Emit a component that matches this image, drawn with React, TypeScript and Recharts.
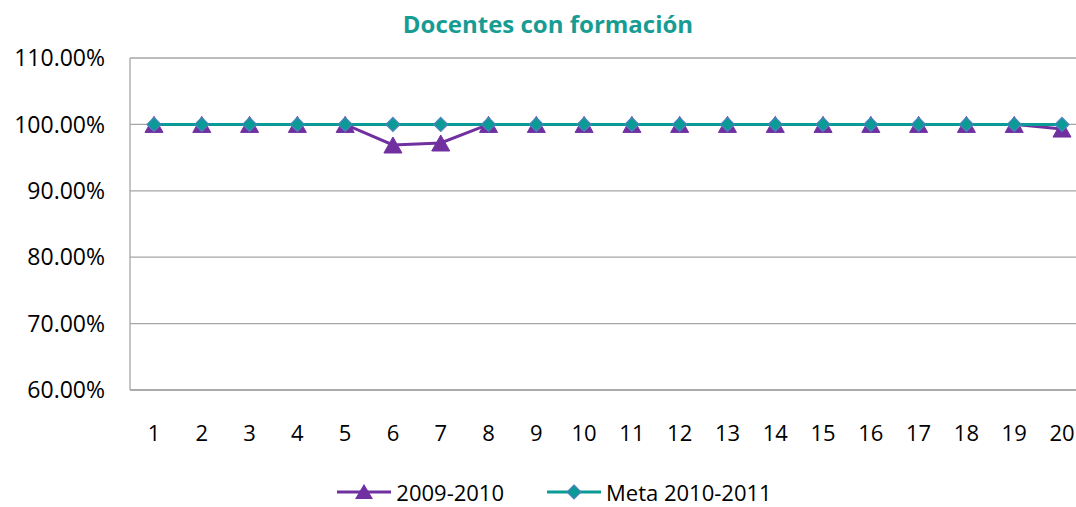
import React from "react";
import { LineChart, Line, XAxis, YAxis, CartesianGrid, Legend } from "recharts";

// chart values
const schools = ["1", "2", "3", "4", "5", "6", "7", "8", "9", "10", "11", "12", "13", "14", "15", "16", "17", "18", "19", "20"];
const docentes0910 = [1, 1, 1, 1, 1, 0.969, 0.972, 1, 1, 1, 1, 1, 1, 1, 1, 1, 1, 1, 1, 0.993];
const meta1011 = [1, 1, 1, 1, 1, 1, 1, 1, 1, 1, 1, 1, 1, 1, 1, 1, 1, 1, 1, 1];
const yTicks = [0.6, 0.7, 0.8, 0.9, 1.0, 1.1];

const PURPLE = "#7030a0";
const TEAL = "#0a9b96";
const FONT = "'Open Sans', sans-serif";

const data = schools.map((s, i) => ({
  name: s,
  a: docentes0910[i],
  b: meta1011[i],
}));

const Triangle = (props: any) => {
  const { cx, cy } = props;
  if (cx == null || cy == null) return null;
  return (
    <polygon
      points={`${cx},${cy - 8} ${cx - 9},${cy + 8} ${cx + 9},${cy + 8}`}
      fill={PURPLE}
      stroke={PURPLE}
    />
  );
};

const Diamond = (props: any) => {
  const { cx, cy } = props;
  if (cx == null || cy == null) return null;
  return (
    <polygon
      points={`${cx},${cy - 7} ${cx + 7},${cy} ${cx},${cy + 7} ${cx - 7},${cy}`}
      fill={TEAL}
      stroke="#4f81bd"
      strokeWidth={1.2}
    />
  );
};

const legendItems = [
  { label: "2009-2010", color: PURPLE, marker: "tri" },
  { label: "Meta 2010-2011", color: TEAL, marker: "dia" },
];

const renderLegend = () => (
  <div
    style={{
      display: "flex",
      justifyContent: "center",
      alignItems: "center",
      height: 30,
      lineHeight: "30px",
      marginLeft: 22,
      fontFamily: FONT,
      fontSize: 22,
      color: "#000",
      gap: 42,
    }}
  >
    {legendItems.map((it) => (
      <div key={it.label} style={{ display: "flex", alignItems: "center" }}>
        <svg width={56} height={20} style={{ marginRight: 4 }}>
          <line x1={1} y1={10} x2={55} y2={10} stroke={it.color} strokeWidth={3} />
          {it.marker === "tri" ? (
            <polygon points="28,2 19,17 37,17" fill={PURPLE} />
          ) : (
            <polygon points="28,3 35,10 28,17 21,10" fill={TEAL} stroke="#4f81bd" strokeWidth={1.2} />
          )}
        </svg>
        <span>{it.label}</span>
      </div>
    ))}
  </div>
);

export default function App() {
  return (
    <div
      style={{
        position: "absolute",
        left: 0,
        top: 0,
        width: 1076,
        height: 507,
        overflow: "hidden",
        background: "#fff",
      }}
    >
      <div
        style={{
          position: "absolute",
          top: 8,
          left: 0,
          width: 1096,
          textAlign: "center",
          fontFamily: FONT,
          fontWeight: 700,
          fontSize: 24,
          lineHeight: "32px",
          color: "#169c93",
          zIndex: 1,
        }}
      >
        Docentes con formación
      </div>
      <LineChart
        width={1090}
        height={507}
        data={data}
        margin={{ top: 58, right: 4, bottom: 0, left: 0 }}
      >
        <CartesianGrid vertical={false} stroke="#a6a6a6" strokeWidth={1.3} />
        <XAxis
          dataKey="name"
          height={87}
          padding={{ left: 24, right: 24 }}
          tickLine={false}
          tickSize={0}
          tickMargin={35}
          axisLine={{ stroke: "#a6a6a6", strokeWidth: 1.3 }}
          tick={{ fill: "#000", fontFamily: FONT, fontSize: 22 }}
          interval={0}
        />
        <YAxis
          width={130}
          domain={[0.6, 1.1]}
          ticks={yTicks}
          tickLine={false}
          tickSize={0}
          tickMargin={25}
          axisLine={{ stroke: "#a6a6a6", strokeWidth: 1.3 }}
          tick={{ fill: "#000", fontFamily: FONT, fontSize: 23 }}
          tickFormatter={(v: number) => (v * 100).toFixed(2) + "%"}
        />
        <Legend verticalAlign="bottom" height={30} content={renderLegend} />
        <Line
          dataKey="a"
          name="2009-2010"
          stroke={PURPLE}
          strokeWidth={3}
          dot={<Triangle />}
          activeDot={false}
          isAnimationActive={false}
        />
        <Line
          dataKey="b"
          name="Meta 2010-2011"
          stroke={TEAL}
          strokeWidth={3}
          dot={<Diamond />}
          activeDot={false}
          isAnimationActive={false}
        />
      </LineChart>
    </div>
  );
}
